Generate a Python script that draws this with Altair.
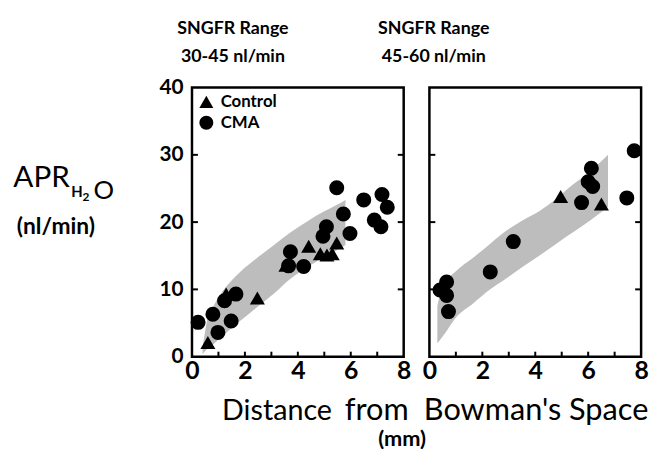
import altair as alt
import pandas as pd

FONT = "Lato"
W, H = 214, 272

# ---- data ----
groups = ["Control", "CMA"]

# Left panel: SNGFR 30-45 nl/min
l_ctrl_x = [0.60, 1.29, 2.47, 3.55, 4.41, 4.85, 5.10, 5.30, 5.47]
l_ctrl_y = [2.1, 9.3, 8.7, 13.6, 16.4, 15.3, 15.1, 15.3, 16.9]
l_cma_x = [0.23, 0.79, 0.98, 1.48, 1.23, 1.66, 3.72, 3.65, 4.22, 4.95, 5.08,
           5.47, 5.72, 5.97, 6.49, 7.18, 7.38, 6.89, 7.14]
l_cma_y = [5.1, 6.3, 3.6, 5.3, 8.3, 9.3, 15.6, 13.5, 13.4, 17.9, 19.3,
           25.1, 21.2, 18.3, 23.3, 24.1, 22.2, 20.3, 19.3]

# Right panel: SNGFR 45-60 nl/min
r_ctrl_x = [4.96, 6.50]
r_ctrl_y = [23.8, 22.7]
r_cma_x = [0.40, 0.65, 0.65, 0.72, 2.30, 3.17, 5.75, 6.00, 6.12, 6.17, 7.46, 7.74]
r_cma_y = [9.9, 11.1, 9.1, 6.7, 12.6, 17.1, 22.9, 26.0, 28.0, 25.3, 23.6, 30.6]

# shaded bands
l_band_x = [0.4, 0.6, 0.85, 1.25, 1.85, 2.5, 3.1, 3.7, 4.35, 5.0, 5.5, 5.8]
l_band_hi = [1.4, 5.8, 7.8, 10.2, 12.7, 14.8, 16.6, 18.4, 20.1, 21.6, 22.6, 23.3]
l_band_lo = [0.4, 1.2, 2.0, 3.4, 5.4, 7.5, 9.4, 11.5, 13.3, 14.8, 15.9, 16.6]

r_band_x = [0.3, 0.5, 1.0, 1.65, 2.3, 2.9, 3.5, 4.15, 4.8, 5.4, 6.1, 6.75]
r_band_hi = [7.5, 10.5, 12.7, 14.7, 16.8, 18.7, 20.2, 21.6, 23.5, 25.5, 27.6, 30.0]
r_band_lo = [2.0, 3.0, 5.8, 7.9, 10.0, 11.6, 13.3, 15.0, 16.8, 18.4, 20.3, 22.3]

x_labels = [0, 2, 4, 6, 8]
x_minor = [1, 2, 3, 4, 5, 6, 7]
y_labels = [0, 10, 20, 30, 40]
y_minor = [10, 20, 30]

# ---- helpers ----
xscale = alt.Scale(domain=[0, 8], nice=False, zero=False)
yscale = alt.Scale(domain=[0, 40], nice=False, zero=False)
x_axis = alt.Axis(values=x_labels, labelFontSize=25, labelFontWeight="bold",
                  labelPadding=2, labelFlush=False, labelOverlap=False,
                  labelFont=FONT, labelColor="black", format="d")
y_axis_l = alt.Axis(values=y_labels, labelFontSize=21, labelFontWeight="bold",
                    labelPadding=9, labelFlush=False, labelOverlap=False,
                    labelFont=FONT, labelColor="black", format="d")


def pts_df(cx, cy, mx, my):
    return pd.DataFrame({
        "x": cx + mx,
        "y": cy + my,
        "group": ["Control"] * len(cx) + ["CMA"] * len(mx),
    })


def txt(s, x, y, size, weight="normal", align="center", baseline="middle"):
    return alt.Chart(pd.DataFrame({"t": [s]})).mark_text(
        align=align, baseline=baseline, fontSize=size, font=FONT,
        fontWeight=weight, color="black"
    ).encode(text="t:N", x=alt.value(x), y=alt.value(y))


def panel(df, bx, blo, bhi, y_axis, legend, texts):
    X = lambda f: alt.X(f, scale=xscale, axis=x_axis, title=None)
    Y = lambda f: alt.Y(f, scale=yscale, axis=y_axis, title=None)
    band = alt.Chart(pd.DataFrame({"x": bx, "lo": blo, "hi": bhi})).mark_area(
        color="#bdbdbd", opacity=1, interpolate="monotone"
    ).encode(x=X("x:Q"), y=Y("lo:Q"), y2="hi:Q")
    xt = alt.Chart(pd.DataFrame({"v": x_minor})).mark_rule(
        color="black", strokeWidth=2
    ).encode(x=X("v:Q"), y=alt.value(H), y2=alt.value(H - 5))
    yt_l = alt.Chart(pd.DataFrame({"v": y_minor})).mark_rule(
        color="black", strokeWidth=2
    ).encode(y=Y("v:Q"), x=alt.value(0), x2=alt.value(6))
    yt_r = alt.Chart(pd.DataFrame({"v": y_minor})).mark_rule(
        color="black", strokeWidth=2
    ).encode(y=Y("v:Q"), x=alt.value(W - 6), x2=alt.value(W))
    pts = alt.Chart(df).mark_point(
        filled=True, color="black", opacity=1, size=230
    ).encode(
        x=X("x:Q"), y=Y("y:Q"),
        shape=alt.Shape("group:N",
                        scale=alt.Scale(domain=groups, range=["triangle-up", "circle"]),
                        legend=legend),
    )
    return alt.layer(band, xt, yt_l, yt_r, pts, *texts).properties(width=W, height=H)


legend = alt.Legend(
    title=None, orient="top-left", offset=6, padding=0,
    labelFont=FONT, labelFontSize=17, labelFontWeight="bold", labelColor="black",
    symbolSize=200, symbolFillColor="black", symbolStrokeColor="black",
    symbolStrokeWidth=0, rowPadding=3, labelOffset=6,
)

left_texts = [
    txt("SNGFR Range", 41.4, -59, 18, "bold"),
    txt("30-45 nl/min", 41.4, -31, 18, "bold"),
    txt("APR", -180.6, 101, 30, "normal", "left", "alphabetic"),
    txt("H", -122, 111, 15, "bold", "left", "alphabetic"),
    txt("2", -110.6, 114.5, 12, "bold", "left", "alphabetic"),
    txt("O", -99.6, 112.5, 26, "normal", "left", "alphabetic"),
    txt("(nl/min)", -137.6, 148, 23, "bold", "center", "alphabetic"),
    txt("Distance", 30.4, 336, 29, "normal", "left", "alphabetic"),
    txt("from", 154.4, 336, 31, "normal", "left", "alphabetic"),
    txt("(mm)", 212.4, 362, 22, "bold", "center", "alphabetic"),
]
right_texts = [
    txt("SNGFR Range", 4.4, -59, 18, "bold"),
    txt("45-60 nl/min", 4.4, -31, 18, "bold"),
    txt("Bowman's Space", -5.6, 336, 31, "normal", "left", "alphabetic"),
]

left = panel(pts_df(l_ctrl_x, l_ctrl_y, l_cma_x, l_cma_y),
             l_band_x, l_band_lo, l_band_hi, y_axis_l, legend, left_texts)
right = panel(pts_df(r_ctrl_x, r_ctrl_y, r_cma_x, r_cma_y),
              r_band_x, r_band_lo, r_band_hi, None, None, right_texts)

chart = alt.hconcat(left, right, spacing=26, bounds="flush").resolve_scale(
    shape="independent"
).resolve_legend(shape="independent").configure_view(
    stroke="black", strokeWidth=2.5
).configure_axis(grid=False, domain=False, ticks=False).properties(
    padding={"left": 4, "top": 8, "right": 0, "bottom": 2}
)

chart.save("out.html", embed_options={"renderer": "svg", "actions": False})
